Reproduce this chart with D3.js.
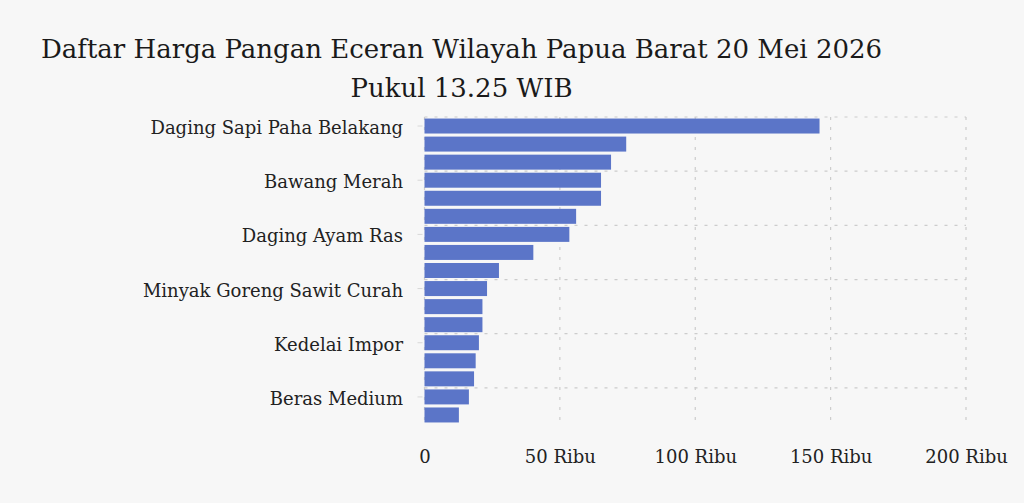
<!DOCTYPE html>
<html>
<head>
<meta charset="utf-8">
<script src="https://cdn.jsdelivr.net/npm/d3@7"></script>
<style>
  body { margin: 0; background: #f7f7f7; }
  svg { display: block; }
  .title { font-family: "DejaVu Serif", serif; font-size: 26px; fill: #1a1a1a; }
  .tick-label { font-family: "DejaVu Serif", serif; font-size: 18px; fill: #222; }
  .grid line { stroke: #cccccc; stroke-width: 1.2; stroke-dasharray: 3,7; }
</style>
</head>
<body>
<svg id="chart" width="1024" height="503"></svg>
<script>
/* DATA */
const categories = [
  "Daging Sapi Paha Belakang", "Cabai Rawit Merah", "Bawang Putih Bonggol",
  "Bawang Merah", "Cabai Merah Keriting", "Ikan Kembung",
  "Daging Ayam Ras", "Telur Ayam Ras", "Minyak Goreng Kemasan Sederhana",
  "Minyak Goreng Sawit Curah", "Gula Pasir Lokal", "Gula Pasir Kualitas Premium",
  "Kedelai Impor", "Beras Premium", "Tepung Terigu",
  "Beras Medium", "Garam Halus"
];
const prices = [145900, 74500, 68900, 65200, 65200, 56000, 53500, 40200, 27500,
  23100, 21400, 21400, 20100, 18900, 18300, 16400, 12700];
const xTicks = [0, 50000, 100000, 150000, 200000];
const xTickLabels = ["0", "50 Ribu", "100 Ribu", "150 Ribu", "200 Ribu"];
const titleLines = ["Daftar Harga Pangan Eceran Wilayah Papua Barat 20 Mei 2026", "Pukul 13.25 WIB"];

const margin = { top: 117, left: 424.5, right: 58, bottom: 79 };
const width = 1024, height = 503;
const plotWidth = width - margin.left - margin.right;
const plotHeight = height - margin.top - margin.bottom;

const svg = d3.select("svg#chart");

/* TITLE */
svg.selectAll("text.title")
  .data(titleLines)
  .join("text")
  .attr("class", "title")
  .attr("x", 461.5)
  .attr("y", (d, i) => 58 + i * 39)
  .attr("text-anchor", "middle")
  .text(d => d);

const plot = svg.append("g").attr("transform", "translate(" + margin.left + "," + margin.top + ")");

/* SCALES */
let priceScale = d3.scaleLinear().domain([0, 200000]).range([0, plotWidth]);
let catScale = d3.scaleBand().domain(categories).range([0, plotHeight])
  .paddingInner(0.17).paddingOuter(0.085);

const step = catScale.step();
const labeled = categories.filter((d, i) => i % 3 === 0);

/* GRID */
const grid = plot.append("g").attr("class", "grid");
grid.selectAll("line.v")
  .data(xTicks)
  .join("line")
  .attr("class", "v")
  .attr("x1", d => priceScale(d)).attr("x2", d => priceScale(d))
  .attr("y1", 0).attr("y2", plotHeight);
grid.selectAll("line.h")
  .data(labeled)
  .join("line")
  .attr("class", "h")
  .attr("x1", 0).attr("x2", plotWidth)
  .attr("y1", d => catScale(d) - step * 0.085)
  .attr("y2", d => catScale(d) - step * 0.085);

/* BARS */
plot.append("g").selectAll("rect")
  .data(categories)
  .join("rect")
  .attr("x", 0)
  .attr("y", d => catScale(d))
  .attr("width", (d, i) => priceScale(prices[i]))
  .attr("height", catScale.bandwidth())
  .attr("fill", "#5b75c8");

/* AXES */
const yAxis = d3.axisLeft(catScale).tickValues(labeled).tickSize(5).tickPadding(16.5);
const yGroup = plot.append("g").call(yAxis);
yGroup.select(".domain").remove();
yGroup.selectAll("line").attr("stroke", "#d8d8d8").attr("transform", "translate(-2,0)");
yGroup.selectAll("text").attr("class", "tick-label").attr("font-family", null).attr("font-size", null)
  .attr("dy", "0.45em");

const xAxis = d3.axisBottom(priceScale).tickValues(xTicks)
  .tickFormat((d, i) => xTickLabels[i]).tickSize(0).tickPadding(26);
const xGroup = plot.append("g").attr("transform", "translate(0," + plotHeight + ")").call(xAxis);
xGroup.select(".domain").remove();
xGroup.selectAll("text").attr("class", "tick-label").attr("font-family", null).attr("font-size", null);
</script>
</body>
</html>
